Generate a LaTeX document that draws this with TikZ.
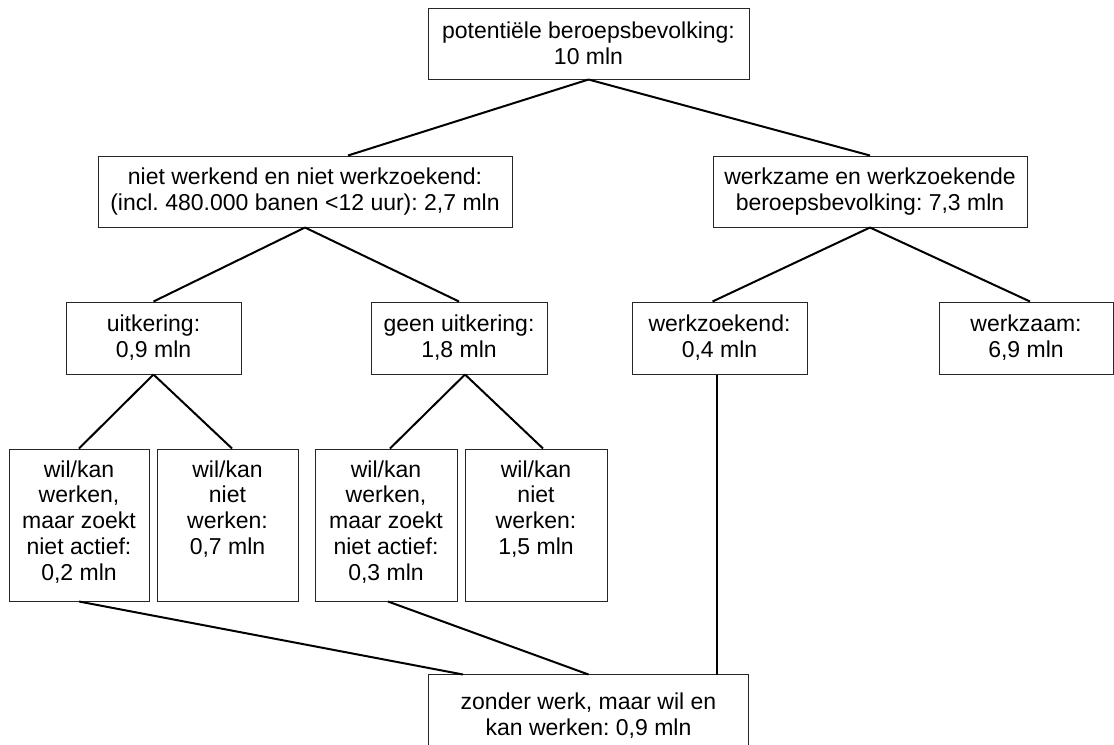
\documentclass[tikz,border=0pt]{standalone}
\usepackage{fontspec}
\setmainfont{Liberation Sans}
\frenchspacing
\usetikzlibrary{calc}
\tikzset{
  box/.style={draw=black!85, line width=0.75pt, inner sep=0pt, align=center,
    font=\fontsize{17.25}{19.4}\selectfont},
  link/.style={line width=1.5pt, black},
}
\newcommand\tallbox[1]{\parbox[c][114pt][t]{100pt}{\centering\vspace*{8.5pt}#1}}
\begin{document}
\begin{tikzpicture}[x=0.75pt, y=-0.75pt]
\useasboundingbox (0,0) rectangle (1114,744);
\node[box, minimum width=240.75pt, minimum height=53.25pt] (top) at (588.5,43.5) {potentiële beroepsbevolking:\\10 mln};
\node[box, minimum width=310.5pt, minimum height=53.25pt] (nw) at (305,191.5) {niet werkend en niet werkzoekend:\\(incl. 480.000 banen <12 uur): 2,7 mln};
\node[box, minimum width=235.5pt, minimum height=53.25pt] (bb) at (870,191.5) {werkzame en werkzoekende\\beroepsbevolking: 7,3 mln};
\node[box, minimum width=131.25pt, minimum height=54pt] (uk) at (153.5,338) {uitkering:\\0,9 mln};
\node[box, minimum width=132pt, minimum height=54pt] (gu) at (459,338) {geen uitkering:\\1,8 mln};
\node[box, minimum width=131.25pt, minimum height=54pt] (wzk) at (719.5,338) {werkzoekend:\\0,4 mln};
\node[box, minimum width=130.5pt, minimum height=54pt] (wzm) at (1026,338) {werkzaam:\\6,9 mln};
\node[box, minimum width=105pt, minimum height=114pt] (b1) at (79,525) {\tallbox{wil/kan\\werken,\\maar zoekt\\niet actief:\\0,2 mln}};
\node[box, minimum width=105.75pt, minimum height=114pt] (b2) at (227.5,525) {\tallbox{wil/kan\\niet\\werken:\\0,7 mln}};
\node[box, minimum width=106.5pt, minimum height=114pt] (b3) at (386,525) {\tallbox{wil/kan\\werken,\\maar zoekt\\niet actief:\\0,3 mln}};
\node[box, minimum width=106.5pt, minimum height=114pt] (b4) at (536,525) {\tallbox{wil/kan\\niet\\werken:\\1,5 mln}};
\node[box, draw=none, minimum width=239.25pt, minimum height=60.75pt] (z) at (588.5,715.5) {zonder werk, maar wil en\\kan werken: 0,9 mln};
\draw[black!85, line width=0.75pt] (z.south west) -- (z.north west) -- (z.north east) -- (z.south east);
\draw[link] (top.south) -- ([xshift=32.25pt]nw.north);
\draw[link] (top.south) -- (bb.north);
\draw[link] (nw.south) -- (uk.north);
\draw[link] (nw.south) -- (gu.north);
\draw[link] (bb.south) -- ([xshift=-5.25pt]wzk.north);
\draw[link] (bb.south) -- ([xshift=3pt]wzm.north);
\draw[link] (uk.south) -- (b1.north);
\draw[link] (uk.south) -- ([xshift=3.4pt]b2.north);
\draw[link] ([xshift=4.5pt]gu.south) -- ([xshift=3pt]b3.north);
\draw[link] ([xshift=4.5pt]gu.south) -- ([xshift=5.25pt]b4.north);
\draw[link] (b1.south) -- ([xshift=-94.1pt]z.north);
\draw[link] ([xshift=1.5pt]b3.south) -- (z.north);
\coordinate (v) at ([xshift=-1.9pt]wzk.south);
\draw[link] (v) -- (v |- z.north);
\end{tikzpicture}
\end{document}
